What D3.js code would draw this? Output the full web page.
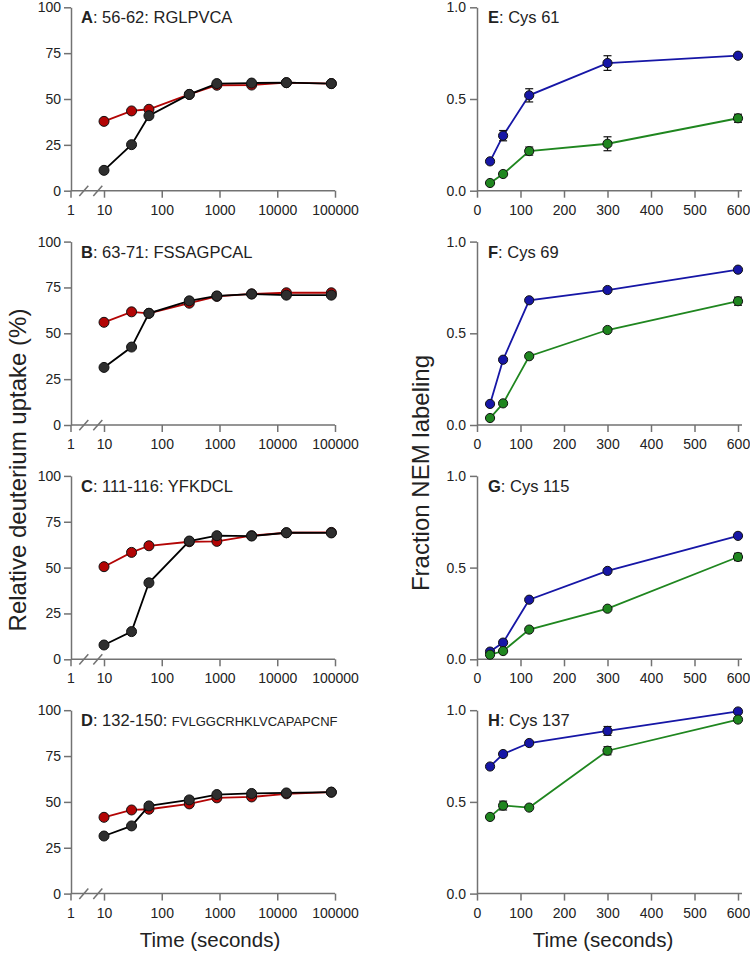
<!DOCTYPE html>
<meta charset="utf-8">
<style>
    html, body { margin: 0; background: #fff; }
    svg { display: block; font-family: "Liberation Sans", Arial, sans-serif; }
    .axis path, .axis line { stroke: #727272; stroke-width: 1.5px; }
    .axis text { font-size: 14px; fill: #222; font-family: "Liberation Sans", Arial, sans-serif; }
    .brk { stroke: #333; stroke-width: 1.2px; }
    .title { font-size: 16.5px; fill: #222; }
    .label { fill: #222; }
    .err { stroke: #111; stroke-width: 1.2px; }
</style>
<body>
<script src="https://d3js.org/d3.v7.min.js"></script>
<script>

    // --- data ---
    var letters = ["A", "B", "C", "D", "E", "F", "G", "H"];
    var peptideRange = ["56-62", "63-71", "111-116", "132-150"];
    var peptideSeq = ["RGLPVCA", "FSSAGPCAL", "YFKDCL", "FVLGGCRHKLVCAPAPCNF"];
    var cysNames = ["Cys 61", "Cys 69", "Cys 115", "Cys 137"];

    var hdxTimes = [10, 30, 60, 300, 900, 3600, 14400, 86400];
    var hdxTicks = [10, 100, 1000, 10000, 100000];
    var uptakeTicks = [0, 25, 50, 75, 100];

    var uptakeRed = [
        [37.8, 43.5, 44.4, 52.5, 57.5, 57.6, 58.9, 58.4],
        [56.0, 61.7, 60.9, 66.4, 70.1, 71.5, 72.1, 72.1],
        [50.5, 58.3, 61.9, 64.1, 64.3, 67.4, 69.0, 69.2],
        [41.6, 45.6, 46.0, 48.9, 52.2, 52.7, 54.4, 55.3]
    ];
    var uptakeBlack = [
        [11.1, 25.1, 40.9, 52.5, 58.4, 58.7, 58.9, 58.4],
        [31.4, 42.5, 60.9, 67.7, 70.4, 71.4, 70.8, 70.8],
        [7.8, 15.1, 41.7, 64.5, 67.4, 67.2, 69.0, 68.9],
        [31.4, 36.9, 47.8, 51.1, 54.0, 54.6, 54.9, 55.3]
    ];

    var nemTimes = [30, 60, 120, 300, 600];
    var nemXTicks = [0, 100, 200, 300, 400, 500, 600];
    var nemYTicks = [0, 0.5, 1.0];

    var nemBlue = [
        [0.16, 0.30, 0.52, 0.696, 0.736],
        [0.115, 0.356, 0.68, 0.736, 0.847],
        [0.042, 0.091, 0.325, 0.482, 0.673],
        [0.693, 0.761, 0.821, 0.887, 0.993]
    ];
    var nemBlueErr = [
        [0, 0.028, 0.036, 0.04, 0],
        [0, 0, 0, 0, 0],
        [0, 0, 0, 0, 0],
        [0, 0, 0, 0.024, 0]
    ];
    var nemGreen = [
        [0.042, 0.091, 0.216, 0.256, 0.395],
        [0.038, 0.118, 0.375, 0.518, 0.675],
        [0.025, 0.045, 0.162, 0.276, 0.558],
        [0.418, 0.48, 0.469, 0.779, 0.949]
    ];
    var nemGreenErr = [
        [0, 0, 0.022, 0.038, 0.022],
        [0, 0, 0, 0, 0.022],
        [0, 0, 0, 0, 0.02],
        [0, 0.024, 0, 0.022, 0]
    ];

    var width = 750,
        height = 955,
        panelH = 183.4,
        pitch = 234.3,
        top0 = 7.3;

    var colRed = "#b30505", colBlack = "#2e2e2e",
        colBlue = "#1616a6", colGreen = "#1f861f";

    var svg = d3.select("body").append("svg")
        .attr("width", width)
        .attr("height", height);

    // left column: deuterium uptake, broken log axis
    var leftX0 = 71;
    var xLog = d3.scaleLog().domain([10, 100000]).range([104, 335]);

    uptakeRed.forEach(function (red, i) {
        var top = top0 + i * pitch;
        var y = d3.scaleLinear().domain([0, 100]).range([top + panelH, top]);
        var g = svg.append("g");

        g.append("g").attr("class", "axis")
            .attr("transform", "translate(" + leftX0 + ",0)")
            .call(d3.axisLeft(y).tickValues(uptakeTicks).tickSize(7).tickPadding(3).tickSizeOuter(0));

        var xa = g.append("g").attr("class", "axis")
            .attr("transform", "translate(0," + y(0) + ")")
            .call(d3.axisBottom(xLog).tickValues(hdxTicks).tickFormat(d3.format("d"))
                .tickSize(7).tickPadding(7).tickSizeOuter(0));
        xa.select(".domain").attr("d", "M" + leftX0 + ",0H" + xLog(100000));

        // the "1" tick sits on the y axis, then the break marks
        var one = xa.append("g").attr("class", "tick").attr("transform", "translate(" + leftX0 + ",0)");
        one.append("line").attr("y2", 7);
        one.append("text").attr("y", 14).attr("dy", "0.71em").attr("text-anchor", "middle").text("1");
        [79.3, 93.3].forEach(function (bx) {
            xa.append("line").attr("class", "brk")
                .attr("x1", bx).attr("y1", 5.3).attr("x2", bx + 9).attr("y2", -5);
        });

        var line = d3.line()
            .x(function (d, j) { return xLog(hdxTimes[j]); })
            .y(function (d) { return y(d); });

        [[red, colRed], [uptakeBlack[i], colBlack]].forEach(function (s) {
            g.append("path").datum(s[0])
                .attr("d", line)
                .attr("fill", "none")
                .attr("stroke", s[1] === colBlack ? "#000" : s[1])
                .attr("stroke-width", 1.8);
            g.selectAll(null).data(s[0]).enter().append("circle")
                .attr("cx", function (d, j) { return xLog(hdxTimes[j]); })
                .attr("cy", function (d) { return y(d); })
                .attr("r", 5)
                .attr("fill", s[1])
                .attr("stroke", "#111")
                .attr("stroke-width", 1);
        });

        var t = g.append("text").attr("class", "title")
            .attr("x", 81).attr("y", top + 16);
        t.append("tspan").attr("font-weight", "bold").text(letters[i]);
        t.append("tspan").text(": " + peptideRange[i] + ": ");
        t.append("tspan").attr("font-size", i === 3 ? "13px" : null).text(peptideSeq[i]);
    });

    // right column: NEM labeling
    var rightX0 = 477;
    var xLin = d3.scaleLinear().domain([0, 600]).range([rightX0, 738]);

    nemBlue.forEach(function (blue, i) {
        var top = top0 + i * pitch;
        var y = d3.scaleLinear().domain([0, 1]).range([top + panelH, top]);
        var g = svg.append("g");

        g.append("g").attr("class", "axis")
            .attr("transform", "translate(" + rightX0 + ",0)")
            .call(d3.axisLeft(y).tickValues(nemYTicks).tickFormat(d3.format(".1f"))
                .tickSize(7).tickPadding(4).tickSizeOuter(0));

        var xa = g.append("g").attr("class", "axis")
            .attr("transform", "translate(0," + y(0) + ")")
            .call(d3.axisBottom(xLin).tickValues(nemXTicks).tickSize(7).tickPadding(7).tickSizeOuter(0));
        xa.select(".domain").attr("d", "M" + rightX0 + ",0H742");

        var line = d3.line()
            .x(function (d, j) { return xLin(nemTimes[j]); })
            .y(function (d) { return y(d); });

        [[blue, nemBlueErr[i], colBlue], [nemGreen[i], nemGreenErr[i], colGreen]].forEach(function (s) {
            var vals = s[0], errs = s[1];
            g.append("path").datum(vals)
                .attr("d", line)
                .attr("fill", "none")
                .attr("stroke", s[2])
                .attr("stroke-width", 1.8);

            var eb = g.selectAll(null)
                .data(vals.map(function (v, j) { return { t: nemTimes[j], v: v, e: errs[j] }; })
                    .filter(function (d) { return d.e > 0; }))
                .enter().append("g").attr("class", "err");
            eb.append("line")
                .attr("x1", function (d) { return xLin(d.t); })
                .attr("x2", function (d) { return xLin(d.t); })
                .attr("y1", function (d) { return y(d.v - d.e); })
                .attr("y2", function (d) { return y(d.v + d.e); });
            [-1, 1].forEach(function (sgn) {
                eb.append("line")
                    .attr("x1", function (d) { return xLin(d.t) - 4; })
                    .attr("x2", function (d) { return xLin(d.t) + 4; })
                    .attr("y1", function (d) { return y(d.v + sgn * d.e); })
                    .attr("y2", function (d) { return y(d.v + sgn * d.e); });
            });

            g.selectAll(null).data(vals).enter().append("circle")
                .attr("cx", function (d, j) { return xLin(nemTimes[j]); })
                .attr("cy", function (d) { return y(d); })
                .attr("r", 4.6)
                .attr("fill", s[2])
                .attr("stroke", "#111")
                .attr("stroke-width", 1);
        });

        var t = g.append("text").attr("class", "title")
            .attr("x", 488).attr("y", top + 16);
        t.append("tspan").attr("font-weight", "bold").text(letters[i + 4]);
        t.append("tspan").text(": " + cysNames[i]);
    });

    // axis titles
    svg.append("text").attr("class", "label")
        .attr("transform", "translate(26,470) rotate(-90)")
        .attr("text-anchor", "middle")
        .attr("font-size", 24)
        .text("Relative deuterium uptake (%)");
    svg.append("text").attr("class", "label")
        .attr("transform", "translate(429,473) rotate(-90)")
        .attr("text-anchor", "middle")
        .attr("font-size", 24)
        .text("Fraction NEM labeling");
    svg.append("text").attr("class", "label")
        .attr("x", 210).attr("y", 947)
        .attr("text-anchor", "middle")
        .attr("font-size", 20.5)
        .text("Time (seconds)");
    svg.append("text").attr("class", "label")
        .attr("x", 603).attr("y", 947)
        .attr("text-anchor", "middle")
        .attr("font-size", 20.5)
        .text("Time (seconds)");

</script>
</body>
</html>
